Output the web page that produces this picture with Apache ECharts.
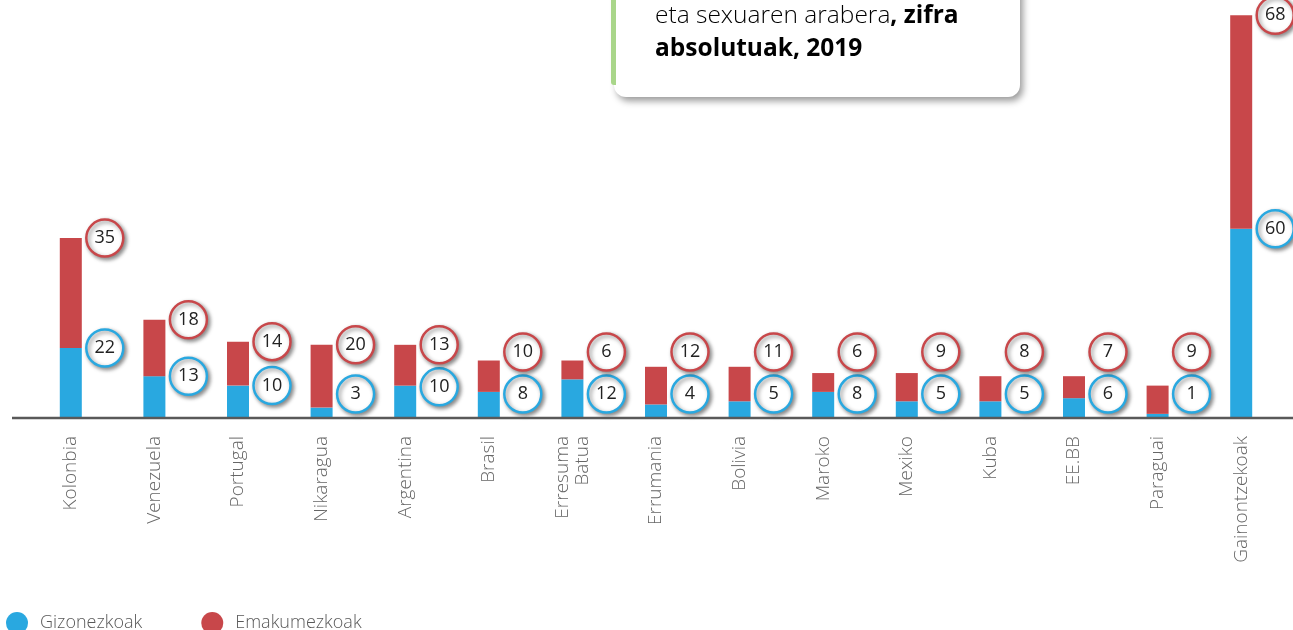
<!DOCTYPE html>
<html><head><meta charset="utf-8">
<script src="https://cdn.jsdelivr.net/npm/echarts@6/dist/echarts.min.js"></script>
<style>html,body{margin:0;padding:0;background:#fff}#c{width:1293px;height:630px}</style>
</head><body><div id="c"></div>
<script>
const categories = ['Kolonbia','Venezuela','Portugal','Nikaragua','Argentina','Brasil','Erresuma\nBatua','Errumania','Bolivia','Maroko','Mexiko','Kuba','EE.BB','Paraguai','Gainontzekoak'];
const men   = [22,13,10,3,10,8,12,4,5,8,5,5,6,1,60];
const women = [35,18,14,20,13,10,6,12,11,6,9,8,7,9,68];
const seriesNames = ['Gizonezkoak','Emakumezkoak'];
const BLUE = '#29a8e0', RED = '#c8474a';

// label bubble anchor heights (in data units), kept apart so bubbles don't overlap
const womenLabelPos = women.map((v,i) => Math.max(men[i]+v, 20.7));
const menLabelPos = men.map((v,i) => Math.min(Math.max(v, 7.3), womenLabelPos[i] - 13.4));

const bubble = (color) => ({
  type:'scatter', symbol:'circle', symbolSize:37, symbolOffset:[34,0], z:5,
  itemStyle:{color:'#fff', borderColor:color, borderWidth:2.5, shadowBlur:4, shadowOffsetX:2, shadowOffsetY:2, shadowColor:'rgba(0,0,0,0.45)', opacity:1},
  label:{show:true, position:'inside', formatter:p=>p.value[2], color:'#222', fontSize:18, fontFamily:'Open Sans'},
  emphasis:{disabled:true}, tooltip:{show:false}
});

const chart = echarts.init(document.getElementById('c'));
chart.setOption({
  animation:false,
  grid:{left:29, right:10, top:9, bottom:213, containLabel:false},
  legend:{show:true, left:1, top:607, itemWidth:22, itemHeight:22, itemGap:59, icon:'circle',
    textStyle:{color:'#595959', fontSize:18, fontFamily:'Open Sans', fontWeight:300, padding:[0,0,0,7]},
    data:seriesNames},
  xAxis:{type:'category', data:categories, axisLine:{show:false}, axisTick:{show:false},
    axisLabel:{rotate:90, interval:0, margin:19, color:'#666', fontSize:19, fontFamily:'Open Sans', fontWeight:300, lineHeight:20, align:'right', verticalAlign:'middle'}},
  yAxis:{type:'value', min:0, max:130, show:false, splitLine:{show:false}},
  series:[
    {name:seriesNames[0], type:'bar', stack:'t', data:men, barWidth:22, itemStyle:{color:BLUE}},
    {name:seriesNames[1], type:'bar', stack:'t', data:women, barWidth:22, itemStyle:{color:RED}},
    Object.assign(bubble(BLUE), {data: men.map((v,i)=>[i, menLabelPos[i], v])}),
    Object.assign(bubble(RED), {data: women.map((v,i)=>[i, womenLabelPos[i], v])})
  ],
  graphic:[
    {type:'line', shape:{x1:12, y1:418, x2:1293, y2:418}, style:{stroke:'#595959', lineWidth:2.5}, z:10},
    {type:'rect', shape:{x:614, y:-30, width:406, height:127, r:12},
      style:{fill:'#fff', shadowBlur:7, shadowOffsetX:3, shadowOffsetY:4, shadowColor:'rgba(0,0,0,0.4)'}, z:20},
    {type:'rect', shape:{x:611, y:-30, width:5, height:115, r:[0,0,0,3]}, style:{fill:'#a9d68a'}, z:21},
    {type:'text', left:655, top:4, z:22, style:{
      text:'{l|eta sexuaren arabera}{b|, zifra}\n{b|absolutuak, 2019}',
      rich:{l:{fontSize:24.5, fontFamily:'Open Sans', fontWeight:300, color:'#222', lineHeight:33},
            b:{fontSize:24.5, fontFamily:'Open Sans', fontWeight:'bold', color:'#222', lineHeight:33}}}}
  ]
});
</script></body></html>
